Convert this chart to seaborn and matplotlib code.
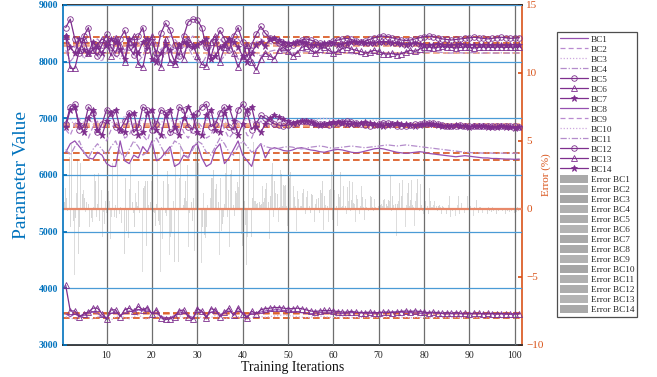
import numpy as np
import matplotlib.pyplot as plt
from matplotlib.patches import Patch
import seaborn as sns

sns.set_theme(style='white')
plt.rcParams['font.family'] = ['Liberation Serif', 'DejaVu Serif']

iterations = np.arange(1, 102)

# top band
bc5 = [8600, 8750, 8400, 8150, 8450, 8600, 8200, 8100, 8300, 8480, 8250, 8150, 8400, 8550, 8250, 8120, 8450, 8600, 8200, 8350,
       8150, 8500, 8680, 8550, 8300, 8100, 8450, 8700, 8750, 8730, 8600, 8250, 8080, 8350, 8550, 8400, 8200, 8450, 8600, 8350,
       8080, 8300, 8480, 8620, 8500,
       8420, 8380, 8320, 8280, 8250, 8300, 8350, 8380, 8400, 8380, 8350, 8320, 8300, 8330, 8360, 8380, 8400, 8410, 8390, 8360,
       8340, 8360, 8390, 8420, 8440, 8450, 8440, 8420, 8400, 8380, 8370, 8380, 8400, 8420, 8440, 8450, 8440, 8420, 8400, 8390,
       8380, 8390, 8400, 8410, 8420, 8430, 8420, 8410, 8400, 8410, 8420, 8430, 8420, 8410, 8415, 8420]
bc6 = [8450, 7880, 7880, 8200, 8400, 8150, 8200, 8300, 8400, 8350, 8100, 8420, 8300, 8000, 8350, 8450, 7950, 7900, 8300, 8450,
       8100, 7900, 8400, 8000, 7950, 8300, 8050, 8400, 8300, 8100, 7950, 7920, 8350, 8450, 8000, 8250, 8400, 8150, 7900, 8100,
       8300, 8000, 7850, 8050, 8150,
       8100, 8050, 8200, 8250, 8180, 8100, 8150, 8250, 8280, 8200, 8150, 8220, 8260, 8200, 8150, 8180, 8230, 8250, 8220, 8200,
       8180, 8150, 8170, 8200, 8180, 8140, 8130, 8150, 8120, 8140, 8170, 8200, 8180, 8220, 8250, 8260, 8240, 8250, 8270, 8260,
       8250, 8240, 8250, 8260, 8250, 8240, 8250, 8260, 8255, 8250, 8260, 8255, 8250, 8255, 8260, 8265]
bc7 = [8450, 8250, 8150, 8400, 8200, 8150, 8350, 8250, 8150, 8300, 8400, 8350, 8200, 8050, 8400, 8300, 8150, 8350, 8400, 8050,
       8000, 8150, 8300, 8200, 8000, 8300, 8350, 8300, 8250, 8300, 8350, 8400, 8050, 8100, 8250, 8300, 8400, 8350, 8250, 8100,
       8000, 8150, 8300, 8350, 8280,
       8400, 8420, 8380, 8340, 8320, 8320, 8350, 8340, 8320, 8300, 8290, 8300, 8320, 8330, 8320, 8300, 8310, 8330, 8340, 8350,
       8340, 8330, 8320, 8330, 8340, 8350, 8340, 8330, 8320, 8310, 8300, 8310, 8320, 8310, 8300, 8290, 8300, 8310, 8300, 8290,
       8290, 8300, 8310, 8300, 8290, 8295, 8300, 8300, 8295, 8290, 8295, 8290, 8290, 8295, 8300, 8290]
bc2 = [8350, 8300, 8250, 8400, 8300, 8200, 8350, 8400, 8300, 8250, 8350, 8450, 8300, 8200, 8300, 8400, 8350, 8250, 8300, 8400,
       8300, 8200, 8350, 8450, 8400, 8300, 8250, 8350, 8450, 8400, 8300, 8200, 8250, 8350, 8400, 8300, 8250, 8350, 8400, 8300,
       8200, 8250, 8350, 8400, 8350,
       8320, 8300, 8290, 8300, 8320, 8330, 8320, 8310, 8300, 8290, 8300, 8310, 8320, 8310, 8300, 8290, 8300, 8310, 8320, 8330,
       8320, 8310, 8300, 8310, 8320, 8330, 8320, 8310, 8300, 8300, 8310, 8320, 8310, 8300, 8290, 8300, 8310, 8320, 8310, 8300,
       8300, 8310, 8300, 8295, 8300, 8305, 8300, 8300, 8305, 8300, 8300, 8305, 8300, 8300, 8305, 8300]
bc4 = [8200, 8000, 8100, 8250, 8050, 8150, 8300, 8100, 8000, 8200, 8250, 8100, 8050, 8200, 8300, 8150, 8000, 8100, 8250, 8200,
       8050, 8000, 8150, 8300, 8200, 8050, 8150, 8250, 8100, 8000, 7950, 8100, 8250, 8150, 8000, 8100, 8200, 8150, 8050, 8000,
       8100, 8200, 8150, 8100, 8150,
       8180, 8200, 8190, 8170, 8160, 8150, 8160, 8170, 8180, 8170, 8160, 8150, 8140, 8150, 8160, 8170, 8160, 8150, 8140, 8130,
       8120, 8130, 8140, 8150, 8160, 8150, 8140, 8130, 8140, 8150, 8160, 8170, 8160, 8150, 8160, 8170, 8180, 8170, 8160, 8150,
       8150, 8160, 8155, 8150, 8155, 8160, 8150, 8150, 8155, 8150, 8150, 8155, 8150, 8150, 8155, 8150]

# second band
bc12 = [6900, 7200, 7250, 6800, 6850, 7200, 7100, 6750, 6900, 7150, 7100, 6850, 6800, 6950, 7100, 6750, 6850, 7200, 7150, 6800,
        6900, 7150, 7100, 6750, 6800, 7200, 7150, 6850, 6800, 7100, 7200, 7250, 6850, 6900, 7100, 7200, 6850, 6800, 7150, 7250,
        7100, 6800, 6900, 7050, 7000,
        6950, 6900, 6880, 6870, 6880, 6900, 6920, 6950, 6960, 6940, 6920, 6900, 6890, 6880, 6900, 6920, 6940, 6950, 6940, 6920,
        6900, 6880, 6870, 6880, 6900, 6920, 6910, 6890, 6870, 6860, 6870, 6880, 6890, 6900, 6910, 6920, 6910, 6900, 6880, 6870,
        6860, 6870, 6880, 6870, 6860, 6855, 6860, 6870, 6865, 6860, 6855, 6860, 6865, 6860, 6855, 6850]
bc14 = [6850, 7150, 7200, 6900, 6750, 7000, 7150, 6800, 6700, 6950, 7100, 7150, 6800, 6750, 7050, 7100, 6700, 6750, 7100, 7150,
        6800, 6700, 7050, 7150, 6850, 6700, 7000, 7200, 7050, 6750, 6700, 7050, 7150, 6800, 6750, 7100, 7200, 6950, 6700, 6900,
        7150, 7200, 6850, 6750, 6900,
        7000, 7050, 7020, 6980, 6950, 6920, 6940, 6960, 6950, 6930, 6900, 6880, 6900, 6920, 6940, 6930, 6910, 6900, 6890, 6900,
        6920, 6930, 6920, 6900, 6880, 6870, 6880, 6900, 6910, 6900, 6890, 6880, 6870, 6880, 6890, 6900, 6890, 6880, 6870, 6860,
        6870, 6880, 6870, 6860, 6850, 6860, 6870, 6860, 6850, 6840, 6850, 6860, 6850, 6840, 6835, 6840]
bc9 = [6800, 6700, 6900, 7000, 6750, 6650, 6850, 6950, 6700, 6600, 6800, 6950, 6850, 6650, 6700, 6900, 6950, 6700, 6600, 6850,
       7000, 6850, 6650, 6700, 6950, 7000, 6750, 6650, 6800, 6950, 6850, 6650, 6700, 6900, 7000, 6800, 6650, 6750, 6950, 6900,
       6700, 6650, 6850, 6950, 6900,
       6880, 6860, 6850, 6870, 6900, 6920, 6930, 6920, 6900, 6880, 6870, 6880, 6900, 6920, 6940, 6950, 6960, 6950, 6930, 6910,
       6900, 6890, 6880, 6890, 6900, 6910, 6900, 6890, 6880, 6870, 6860, 6870, 6880, 6890, 6880, 6870, 6860, 6850, 6860, 6870,
       6860, 6850, 6845, 6850, 6855, 6850, 6845, 6840, 6845, 6850, 6845, 6840, 6845, 6840, 6842, 6840]
bc10 = [6950, 7000, 6850, 6800, 6950, 7050, 6900, 6800, 6900, 7000, 6950, 6850, 6900, 7050, 6950, 6800, 6850, 7000, 7050, 6900,
        6800, 6900, 7050, 7000, 6850, 6800, 6950, 7050, 6950, 6850, 6800, 6950, 7050, 6950, 6850, 6900, 7000, 6950, 6850, 6900,
        7000, 6950, 6900, 6920, 6950,
        6960, 6950, 6940, 6930, 6920, 6930, 6940, 6950, 6960, 6970, 6980, 6990, 7000, 6990, 6980, 6970, 6960, 6950, 6940, 6930,
        6940, 6950, 6960, 6970, 6960, 6950, 6940, 6930, 6920, 6910, 6900, 6910, 6920, 6910, 6900, 6890, 6900, 6910, 6900, 6890,
        6890, 6895, 6900, 6895, 6890, 6895, 6900, 6895, 6890, 6895, 6900, 6895, 6890, 6895, 6894, 6895]

# third band
bc1 = [6400, 6550, 6600, 6500, 6400, 6300, 6280, 6400, 6350, 6200, 6150, 6150, 6600, 6250, 6200, 6350, 6300, 6500, 6400, 6600,
       6250, 6300, 6400, 6500, 6150, 6200, 6350, 6300, 6500, 6550, 6300, 6150, 6200, 6450, 6550, 6200, 6300, 6450, 6600, 6350,
       6250, 6150, 6450, 6550, 6300,
       6450, 6480, 6460, 6430, 6420, 6440, 6470, 6480, 6460, 6440, 6430, 6410, 6400, 6420, 6440, 6450, 6440, 6420, 6400, 6390,
       6400, 6420, 6440, 6460, 6470, 6460, 6440, 6420, 6400, 6390, 6380, 6390, 6400, 6410, 6400, 6380, 6370, 6360, 6350, 6340,
       6330, 6320, 6330, 6340, 6330, 6320, 6310, 6300, 6300, 6290, 6290, 6285, 6280, 6280, 6275, 6280]
bc11 = [6450, 6350, 6500, 6600, 6400, 6300, 6450, 6550, 6450, 6350, 6500, 6600, 6400, 6300, 6450, 6600, 6500, 6350, 6400, 6550,
        6650, 6500, 6350, 6450, 6600, 6550, 6400, 6300, 6450, 6600, 6550, 6400, 6350, 6500, 6650, 6550, 6400, 6350, 6500, 6600,
        6500, 6400, 6450, 6550, 6500,
        6480, 6460, 6470, 6490, 6500, 6490, 6470, 6460, 6470, 6490, 6500, 6510, 6500, 6480, 6470, 6480, 6490, 6500, 6510, 6500,
        6490, 6480, 6490, 6500, 6510, 6520, 6530, 6520, 6510, 6520, 6530, 6520, 6510, 6500, 6490, 6480, 6470, 6460, 6450, 6440,
        6430, 6420, 6410, 6400, 6395, 6390, 6390, 6385, 6390, 6385, 6380, 6385, 6383, 6380, 6385, 6383]

# bottom band
bc13 = [4050, 3600, 3600, 3500, 3550, 3580, 3650, 3650, 3550, 3450, 3620, 3620, 3500, 3620, 3650, 3600, 3680, 3620, 3660, 3550,
        3620, 3480, 3450, 3460, 3500, 3600, 3620, 3500, 3450, 3640, 3600, 3480, 3640, 3620, 3500, 3580, 3650, 3520, 3660, 3550,
        3480, 3600, 3550, 3620, 3640,
        3650, 3660, 3660, 3650, 3640, 3640, 3650, 3640, 3620, 3600, 3590, 3600, 3610, 3610, 3600, 3590, 3580, 3580, 3590, 3580,
        3570, 3570, 3580, 3570, 3570, 3580, 3580, 3570, 3580, 3590, 3600, 3590, 3600, 3590, 3580, 3570, 3580, 3570, 3560, 3570,
        3560, 3570, 3560, 3560, 3555, 3560, 3560, 3550, 3560, 3555, 3550, 3555, 3550, 3545, 3550, 3555]
bc8 = [3550, 3500, 3550, 3500, 3520, 3560, 3580, 3560, 3500, 3480, 3560, 3580, 3520, 3560, 3600, 3580, 3620, 3600, 3620, 3560,
       3560, 3500, 3480, 3480, 3520, 3560, 3580, 3520, 3480, 3580, 3580, 3500, 3580, 3600, 3540, 3560, 3600, 3540, 3600, 3560,
       3500, 3560, 3560, 3580, 3600,
       3610, 3620, 3620, 3610, 3600, 3590, 3580, 3570, 3560, 3550, 3560, 3570, 3580, 3580, 3570, 3560, 3555, 3560, 3570, 3575,
       3570, 3560, 3555, 3560, 3565, 3570, 3575, 3580, 3585, 3580, 3575, 3570, 3565, 3560, 3555, 3560, 3565, 3560, 3555, 3550,
       3550, 3555, 3550, 3548, 3550, 3552, 3550, 3548, 3546, 3548, 3547, 3548, 3546, 3547, 3548, 3547]
bc3 = [3500, 3480, 3450, 3500, 3520, 3480, 3460, 3500, 3520, 3460, 3440, 3500, 3520, 3480, 3460, 3500, 3530, 3480, 3450, 3500,
       3520, 3460, 3440, 3460, 3500, 3520, 3480, 3460, 3500, 3520, 3480, 3450, 3480, 3520, 3500, 3460, 3480, 3520, 3500, 3460,
       3450, 3480, 3510, 3500, 3490,
       3500, 3510, 3520, 3530, 3520, 3510, 3500, 3490, 3480, 3490, 3500, 3510, 3500, 3490, 3485, 3490, 3495, 3490, 3485, 3480,
       3485, 3490, 3495, 3490, 3485, 3490, 3495, 3500, 3495, 3490, 3485, 3480, 3485, 3490, 3485, 3480, 3485, 3490, 3485, 3480,
       3482, 3485, 3482, 3480, 3482, 3485, 3482, 3480, 3482, 3484, 3482, 3480, 3482, 3484, 3482, 3482]

series_names = ['BC%d' % i for i in range(1, 15)]
series_values = [bc1, bc2, bc3, bc4, bc5, bc6, bc7, bc8, bc9, bc10, bc11, bc12, bc13, bc14]
true_values = [6270, 8300, 3482, 8150, 8430, 8282, 8324, 3547, 6842, 6894, 6383, 6870, 3559, 6860]

purple = '#7E2F8E'
line_styles = {
    'solid': dict(color='#9650B0', linestyle='-'),
    'dashed': dict(color='#B98AD0', linestyle=(0, (4, 2.5))),
    'dotted': dict(color='#CDA8DE', linestyle=(0, (1, 1.5))),
    'dashdot': dict(color='#B48CCB', linestyle=(0, (5, 1.5, 1, 1.5))),
}
styles = ['solid', 'dashed', 'dotted', 'dashdot', 'o', '^', '*'] * 2

fig = plt.figure(figsize=(6.57, 3.77), dpi=100)
ax = fig.add_axes([0.0959, 0.085, 0.698, 0.902])
ax2 = ax.twinx()
ax.set_zorder(2)
ax2.set_zorder(1)
ax.patch.set_visible(False)

# error bars (percent) behind the parameter traces
grays = ['#AAAAAA', '#B2B2B2', '#A6A6A6', '#B0B0B0', '#ADADAD', '#B4B4B4', '#A9A9A9'] * 2
bar_w = 0.065
for k, (vals, tv) in enumerate(zip(series_values, true_values)):
    err = (np.array(vals) - tv) / tv * 100
    ax2.bar(iterations + (k - 6.5) * bar_w, err, width=bar_w, color=grays[k], linewidth=0, alpha=0.45)
ax2.axhline(0, color='#E8896A', lw=1.6, zorder=3)

# reference (true) values
for k, tv in enumerate(true_values):
    ax.axhline(tv, color='#D95319' if k % 2 == 0 else '#F0A07C', lw=1.2,
               linestyle=(0, (4, 2)), zorder=2)

for k, (name, vals) in enumerate(zip(series_names, series_values)):
    st = styles[k]
    if st in line_styles:
        s = line_styles[st]
        sns.lineplot(x=iterations, y=vals, ax=ax, color=s['color'], linestyle=s['linestyle'],
                     lw=0.9, label=name, zorder=4)
    else:
        face = purple if st == '*' else 'none'
        sns.lineplot(x=iterations, y=vals, ax=ax, color=purple, lw=0.9, marker=st,
                     markersize=4 if st != '*' else 4.5, markerfacecolor=face,
                     markeredgecolor=purple, markeredgewidth=0.6, label=name, zorder=5)
if ax.get_legend() is not None:
    ax.get_legend().remove()

ax.set_xlim(0.4, 101.5)
ax.set_ylim(3000, 9000)
ax2.set_ylim(-10, 15)
ax.set_xticks(range(10, 101, 10))
ax.set_yticks(range(3000, 9001, 1000))
ax2.set_yticks([-10, -5, 0, 5, 10, 15])

ax.grid(True, axis='x', color='#6E6E6E', lw=0.9)
ax.grid(True, axis='y', color='#4A9BD6', lw=0.9)
ax.set_axisbelow(False)

blue = '#0072BD'
orange = '#D95319'
ax.tick_params(axis='y', direction='in', length=3, colors=blue, labelsize=7)
ax.tick_params(axis='x', direction='in', length=3, colors='#222222', labelsize=7, pad=4)
ax2.tick_params(axis='y', direction='in', length=3, colors=orange, labelsize=8)
for lab in ax.get_yticklabels():
    lab.set_fontweight('bold')

for side in ['top', 'bottom']:
    ax.spines[side].set_color('#222222')
    ax2.spines[side].set_visible(False)
ax.spines['left'].set_color(blue)
ax.spines['left'].set_linewidth(1.2)
ax.spines['right'].set_visible(False)
ax2.spines['left'].set_visible(False)
ax2.spines['right'].set_color(orange)
ax2.spines['right'].set_linewidth(1.2)

ax.set_xlabel('Training Iterations', fontsize=10, color='#111111', labelpad=1)
ax.set_ylabel('Parameter Value', fontsize=14, color=blue, labelpad=6)
ax2.set_ylabel('Error (%)', fontsize=8, color=orange, labelpad=-2)

handles, labels = ax.get_legend_handles_labels()
for k, name in enumerate(series_names):
    handles.append(Patch(facecolor=grays[k], edgecolor='none'))
    labels.append('Error ' + name)
leg = fig.legend(handles, labels, loc='upper left', bbox_to_anchor=(0.848, 0.915),
                 fontsize=6.7, frameon=True, fancybox=False, edgecolor='#222222',
                 handlelength=3.0, handleheight=0.9, labelspacing=0.1, borderpad=0.3,
                 handletextpad=0.35, borderaxespad=0)
leg.get_frame().set_linewidth(0.9)

fig.savefig('out.png', dpi=100)
